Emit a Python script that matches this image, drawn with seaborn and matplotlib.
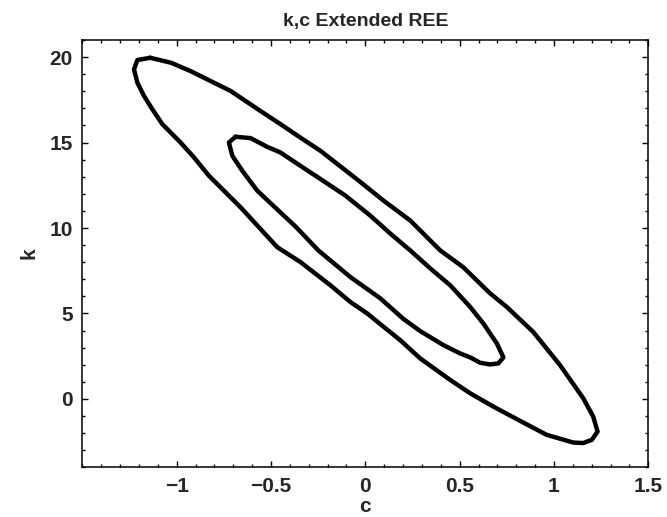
import numpy as np
import pandas as pd
import matplotlib
matplotlib.use("Agg")
import matplotlib.pyplot as plt
from matplotlib.ticker import MultipleLocator, FixedLocator
import seaborn as sns

# ---- data (c, k) ----
outer_c = [-1.14, -1.03, -0.926, -0.820, -0.714, -0.556, -0.450, -0.344, -0.238, -0.035,
           0.097, 0.238, 0.397, 0.520, 0.661, 0.750, 0.890, 1.032, 1.155, 1.208,
           1.231, 1.201, 1.155, 1.102, 0.961, 0.820, 0.679, 0.556, 0.450, 0.291,
           0.185, 0.097, 0.009, -0.079, -0.185, -0.344, -0.467, -0.556, -0.661, -0.750,
           -0.829, -0.908, -0.979, -1.076, -1.129, -1.173, -1.208, -1.226, -1.208, -1.14]
outer_k = [19.96, 19.67, 19.18, 18.60, 18.02, 16.85, 16.08, 15.29, 14.52, 12.77,
           11.60, 10.44, 8.69, 7.70, 6.18, 5.38, 3.92, 1.98, 0.04, -1.03,
           -1.91, -2.39, -2.58, -2.55, -2.10, -1.28, -0.45, 0.33, 1.11, 2.37,
           3.44, 4.22, 5.01, 5.67, 6.65, 8.01, 8.88, 9.95, 11.21, 12.19,
           13.06, 14.13, 15.00, 16.08, 16.95, 17.73, 18.50, 19.28, 19.83, 19.96]

inner_c = [-0.688, -0.608, -0.520, -0.450, -0.344, -0.238, -0.106, 0.026, 0.132, 0.238,
           0.344, 0.450, 0.556, 0.626, 0.697, 0.732, 0.705, 0.661, 0.608, 0.556,
           0.503, 0.414, 0.291, 0.201, 0.079, -0.079, -0.249, -0.370, -0.503, -0.573,
           -0.652, -0.705, -0.723, -0.688]
inner_k = [15.34, 15.26, 14.75, 14.42, 13.64, 12.87, 11.90, 10.73, 9.68, 8.69,
           7.64, 6.65, 5.38, 4.41, 3.25, 2.43, 2.08, 2.02, 2.12, 2.43,
           2.66, 3.15, 3.97, 4.69, 5.89, 7.13, 8.69, 10.09, 11.46, 12.19,
           13.35, 14.23, 15.00, 15.34]

x_ticks = [-1, -0.5, 0, 0.5, 1, 1.5]
x_tick_labels = ["\u22121", "\u22120.5", "0", "0.5", "1", "1.5"]
y_ticks = [0, 5, 10, 15, 20]
y_tick_labels = ["0", "5", "10", "15", "20"]
title_text = "k,c Extended REE"
x_label = "c"
y_label = "k"

sns.set_theme(style="ticks")
plt.rcParams['font.family'] = ['Liberation Sans', 'DejaVu Sans']
plt.rcParams['font.weight'] = 'bold'

fig = plt.figure(figsize=(6.67, 5.17), dpi=100)
ax = fig.add_axes([0.1234, 0.0961, 0.972 - 0.1234, 0.9226 - 0.0961])

df = pd.concat([
    pd.DataFrame({"c": outer_c, "k": outer_k, "contour": "outer", "order": range(len(outer_c))}),
    pd.DataFrame({"c": inner_c, "k": inner_k, "contour": "inner", "order": range(len(inner_c))}),
])
for name, sub in df.groupby("contour"):
    sns.lineplot(data=sub, x="c", y="k", sort=False, estimator=None, ax=ax,
                 color="black", linewidth=3.2, solid_joinstyle="round", solid_capstyle="round")

ax.set_xlim(-1.5, 1.5)
ax.set_ylim(-4, 21)
ax.xaxis.set_major_locator(FixedLocator(x_ticks))
ax.set_xticklabels(x_tick_labels)
ax.yaxis.set_major_locator(FixedLocator(y_ticks))
ax.set_yticklabels(y_tick_labels)
ax.xaxis.set_minor_locator(MultipleLocator(0.1))
ax.yaxis.set_minor_locator(MultipleLocator(1))
ax.tick_params(which="both", direction="in", top=True, right=True, color="black", width=1.0)
ax.tick_params(which="major", length=4.5, labelsize=15, pad=7)
ax.tick_params(which="minor", length=2.5)
for lab in ax.get_xticklabels() + ax.get_yticklabels():
    lab.set_fontweight("bold")
for sp in ax.spines.values():
    sp.set_visible(True)
    sp.set_color("black")
    sp.set_linewidth(1.1)

ax.set_title(title_text, fontsize=14, fontweight="bold", pad=10)
ax.set_xlabel(x_label, fontsize=15, fontweight="bold", labelpad=1)
ax.set_ylabel(y_label, fontsize=15, fontweight="bold", labelpad=8)

fig.savefig("out.png", dpi=100, facecolor="white")
